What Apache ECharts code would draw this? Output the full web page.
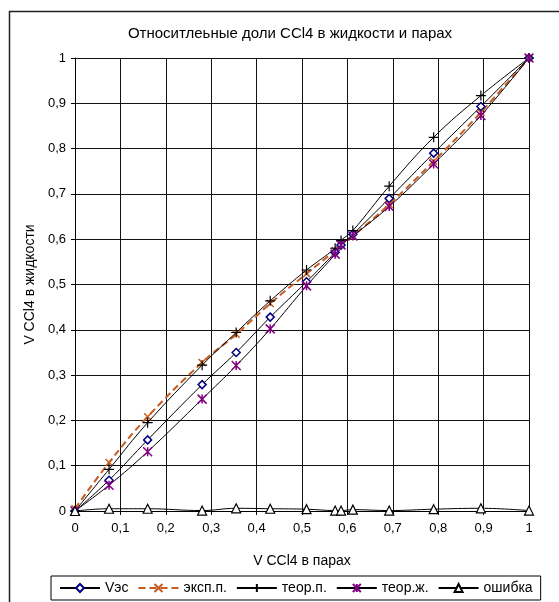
<!DOCTYPE html>
<html>
<head>
<meta charset="utf-8">
<script src="https://cdn.jsdelivr.net/npm/echarts@6/dist/echarts.min.js"></script>
<style>
html,body{margin:0;padding:0;background:#fff;}
#c{width:559px;height:602px;}
</style>
</head>
<body>
<div id="c"></div>
<script>
var xVals  = [0, 0.075, 0.16, 0.28, 0.355, 0.43, 0.51, 0.573, 0.586, 0.612, 0.692, 0.79, 0.894, 1];
var ves    = [0, 0.068, 0.157, 0.279, 0.35, 0.428, 0.506, 0.571, 0.587, 0.611, 0.69, 0.79, 0.893, 1];
var eksp   = [0.005, 0.107, 0.208, 0.328, 0.39, 0.458, 0.524, 0.575, 0.588, 0.607, 0.677, 0.772, 0.88, 1];
var teorP  = [0, 0.092, 0.195, 0.322, 0.394, 0.464, 0.532, 0.58, 0.597, 0.619, 0.717, 0.825, 0.917, 1];
var teorZh = [0, 0.057, 0.131, 0.247, 0.321, 0.402, 0.497, 0.567, 0.587, 0.607, 0.672, 0.766, 0.873, 1];
var err    = [0, 0.005, 0.005, 0.001, 0.006, 0.005, 0.004, 0.001, 0.001, 0.003, 0.001, 0.004, 0.006, 0.001];
var seriesNames = ['Vэс', 'эксп.п.', 'теор.п.', 'теор.ж.', 'ошибка'];
var titleText = 'Относитлеьные доли CCl4 в жидкости и парах';
var xName = 'V CCl4 в парах';
var yName = 'V CCl4 в жидкости';

function pairs(ys){ return xVals.map(function(x,i){ return [x, ys[i]]; }); }
function fmt(v){ return String(Math.round(v*10)/10).replace('.', ','); }

var font = 'Liberation Sans, Arial, sans-serif';
var chart = echarts.init(document.getElementById('c'), null, {renderer:'canvas'});
var plusPath = 'path://M0,5L10,5M5,0L5,10';
var starPath = 'path://M0,0L10,10M10,0L0,10M5,0L5,10';
var crossPath = 'path://M0,0L10,10M10,0L0,10';

chart.setOption({
  animation:false,
  backgroundColor:'#fff',
  textStyle:{fontFamily:font, color:'#000'},
  title:{text:titleText, left:285, top:21, textAlign:'center',
    textStyle:{fontFamily:font, fontSize:15, fontWeight:'normal', color:'#000'}},
  graphic:[{type:'rect', shape:{x:9.5, y:11.5, width:700, height:700},
    style:{fill:'none', stroke:'#222', lineWidth:1.5}, silent:true, z:-1}],
  grid:{left:75, right:30, top:58, bottom:91},
  xAxis:{type:'value', min:0, max:1, interval:0.1,
    name:xName, nameLocation:'middle', nameGap:43,
    nameTextStyle:{fontFamily:font, fontSize:14, color:'#000'},
    axisLine:{lineStyle:{color:'#000', width:1}},
    axisTick:{show:true, length:4, lineStyle:{color:'#000'}},
    axisLabel:{formatter:fmt, fontFamily:font, fontSize:13, color:'#000', margin:11},
    splitLine:{show:true, lineStyle:{color:'#111', width:1}}},
  yAxis:{type:'value', min:0, max:1, interval:0.1,
    name:yName, nameLocation:'middle', nameGap:36,
    nameTextStyle:{fontFamily:font, fontSize:14, color:'#000'},
    axisLine:{show:true, lineStyle:{color:'#000', width:1}},
    axisTick:{show:true, length:4, lineStyle:{color:'#000'}},
    axisLabel:{formatter:fmt, fontFamily:font, fontSize:13, color:'#000', margin:9},
    splitLine:{show:true, lineStyle:{color:'#111', width:1}}},
  legend:{left:51, top:576, width:490, height:24, padding:[5,8,5,8],
    borderColor:'#000', borderWidth:1, itemWidth:40, itemHeight:10, itemGap:9,
    textStyle:{fontFamily:font, fontSize:14, color:'#000'},
    data:seriesNames},
  series:[
    {name:seriesNames[0], type:'line', smooth:0.4, data:pairs(ves),
      symbol:'diamond', symbolSize:8,
      itemStyle:{color:'#fff', borderColor:'#000080', borderWidth:1.5},
      lineStyle:{color:'#000', width:1}, z:3},
    {name:seriesNames[1], type:'line', smooth:0.4, data:pairs(eksp),
      symbol:crossPath, symbolSize:7,
      itemStyle:{color:'none', borderColor:'#C85A1E', borderWidth:1.5},
      lineStyle:{color:'#C85A1E', width:2, type:[7,4]}, z:2},
    {name:seriesNames[2], type:'line', smooth:0.4, data:pairs(teorP),
      symbol:plusPath, symbolSize:10,
      itemStyle:{color:'none', borderColor:'#000', borderWidth:1.2},
      lineStyle:{color:'#000', width:1}, z:3},
    {name:seriesNames[3], type:'line', smooth:0.4, data:pairs(teorZh),
      symbol:starPath, symbolSize:9,
      itemStyle:{color:'none', borderColor:'#800080', borderWidth:1.5},
      lineStyle:{color:'#000', width:1}, z:3},
    {name:seriesNames[4], type:'line', smooth:0.4, data:pairs(err),
      symbol:'triangle', symbolSize:9,
      itemStyle:{color:'#fff', borderColor:'#000', borderWidth:1.2},
      lineStyle:{color:'#000', width:1}, z:3}
  ]
});
</script>
</body>
</html>
